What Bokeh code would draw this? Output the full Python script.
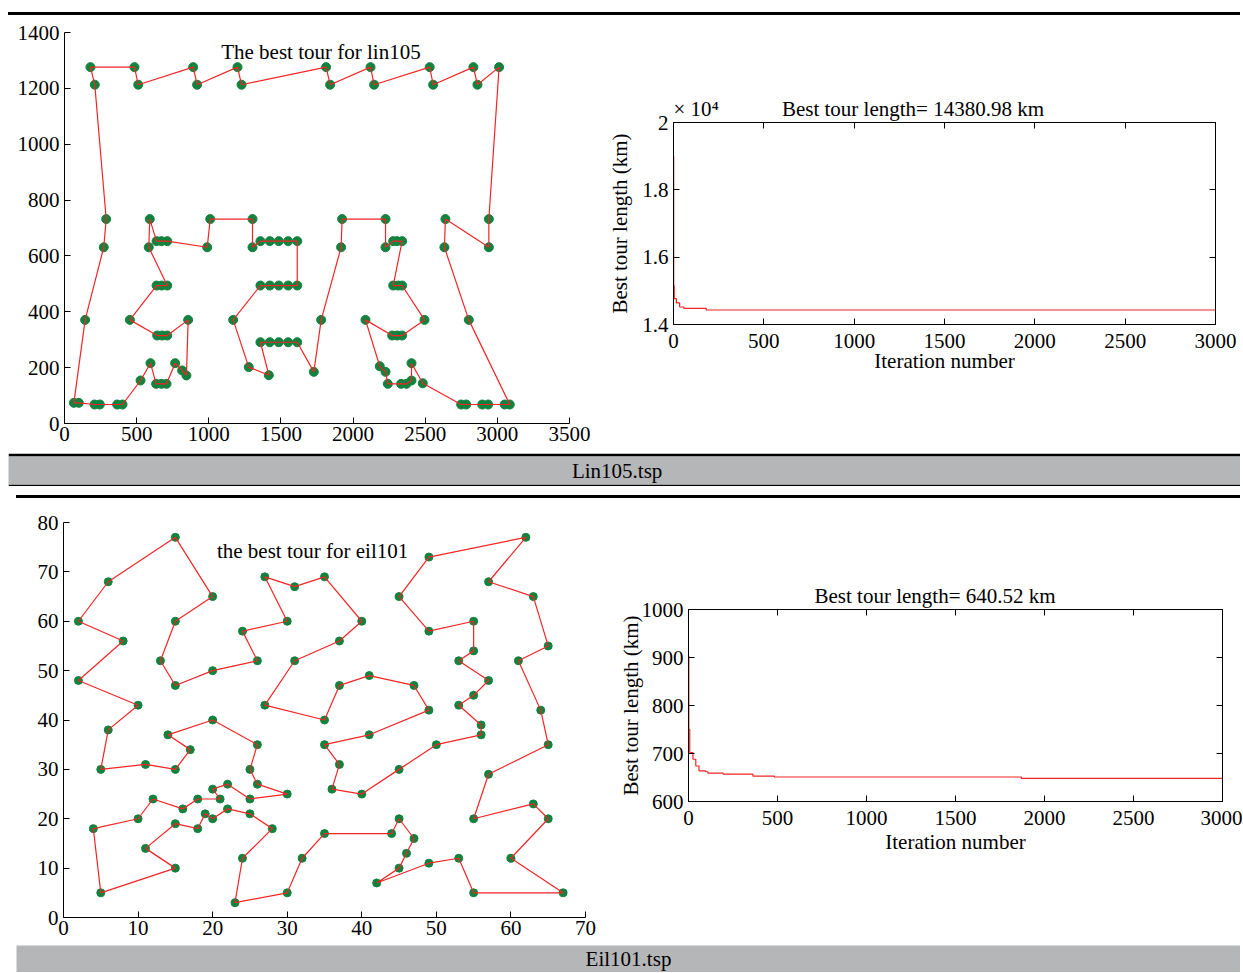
from bokeh.plotting import figure
from bokeh.layouts import column, row
from bokeh.models import Range1d, Label, LinearAxis, FixedTicker, Spacer, Div, Title
from bokeh.embed import file_html
from bokeh.resources import INLINE

FONT = "Liberation Serif"
FS = "21px"
RED = "#f42424"
GREEN = "#13823f"
GREY = "#b5b6b8"
NB = "\u00a0"

# ---------------- data ----------------
# lin105 best tour (city coordinates in visiting order)
lin_x = [180, 485, 511, 892, 919, 1199, 1227, 1813, 1841, 2121, 2146, 2531, 2555, 2834, 2862, 3012,
         2941, 2941, 2640, 2633, 2802, 3086, 3051, 2936, 2895, 2784, 2749,
         2483, 2405, 2405, 2370, 2333, 2241, 2225, 2185, 2086,
         2271, 2305, 2340, 2495, 2340, 2312, 2278, 2340, 2305, 2278,
         2225, 2225, 1924, 1917, 1779, 1728,
         1613, 1550, 1485, 1423, 1358, 1416, 1277, 1169,
         1358, 1423, 1485, 1550, 1613, 1613, 1550, 1485, 1423, 1358,
         1303, 1303, 1010, 989,
         712, 672, 638, 591, 584, 712, 674, 638, 453, 642, 677, 712,
         857, 845, 815, 767, 707, 672, 635, 596, 527,
         402, 365, 245, 208, 99, 65, 143, 272, 289, 210]
lin_y = [1276, 1276, 1213, 1276, 1213, 1276, 1213, 1276, 1213, 1276, 1213, 1276, 1213, 1276, 1213, 1276,
         732, 631, 732, 631, 371, 68, 68, 68, 68, 68, 68,
         144, 216, 154, 142, 142, 142, 185, 205, 371,
         315, 315, 315, 371, 494, 494, 494, 653, 653, 653,
         631, 732, 732, 631, 371, 185,
         291, 291, 291, 291, 291, 173, 202, 371,
         494, 494, 494, 494, 494, 653, 653, 653, 653, 653,
         631, 732, 732, 631,
         653, 653, 653, 732, 631, 494, 494, 494, 371, 315, 315, 315,
         371, 172, 190, 216, 142, 142, 142, 216, 154,
         68, 68, 68, 68, 74, 74, 371, 631, 732, 1213]
lin_xticks = [0, 500, 1000, 1500, 2000, 2500, 3000, 3500]
lin_yticks = [0, 200, 400, 600, 800, 1000, 1200, 1400]

# lin105 convergence
lin_iter = [0, 1, 4, 16, 34, 57, 181, 3000]
lin_best = [18990, 15160, 14770, 14640, 14520, 14480, 14430, 14430]
lin_best_ticks = [14000, 16000, 18000, 20000]
lin_best_labels = ["1.4", "1.6", "1.8", "2"]

# eil101 best tour
eil_x = [56, 56, 50, 45, 40, 36, 37, 35, 41, 49,
         47, 41, 37, 35, 27, 31, 37, 40, 35, 31,
         27, 30, 24, 26, 20, 15, 13, 15, 20, 15,
         6, 2, 8, 2, 10, 6, 5, 11, 15, 17,
         14, 20, 26, 25, 26, 30, 25, 22, 20, 21,
         18, 16, 12, 10, 4, 5, 15, 11, 15, 18,
         19, 20, 22, 25, 28, 24, 23, 30, 32, 35,
         44, 45, 47, 46, 45, 42, 49, 53, 55, 67,
         60, 65, 63, 55, 57, 65, 64, 61, 65, 63,
         57, 62, 49, 45, 49, 55, 55, 53, 57, 55,
         53]
eil_y = [39, 37, 35, 30, 25, 26, 31, 35, 37, 42,
         47, 49, 47, 40, 43, 52, 56, 60, 69, 67,
         69, 60, 58, 52, 50, 47, 52, 60, 65, 77,
         68, 60, 56, 48, 43, 38, 30, 31, 30, 34,
         37, 40, 35, 30, 27, 25, 24, 27, 26, 24,
         24, 22, 24, 20, 18, 5, 10, 14, 19, 18,
         21, 20, 22, 21, 18, 12, 3, 5, 12, 17,
         17, 20, 16, 13, 10, 7, 11, 12, 5, 5,
         12, 20, 23, 20, 29, 35, 42, 52, 55, 65,
         68, 77, 73, 65, 58, 60, 54, 52, 48, 45,
         43]
eil_xticks = [0, 10, 20, 30, 40, 50, 60, 70]
eil_yticks = [0, 10, 20, 30, 40, 50, 60, 70, 80]

# eil101 convergence
eil_iter = [0, 2, 7, 25, 41, 59, 97, 109, 195, 362, 482, 1870, 3000]
eil_best = [903, 750, 702, 688, 674, 664, 662, 659, 657, 653, 651, 648, 648]
eil_best_ticks = [600, 700, 800, 900, 1000]

iter_ticks = [0, 500, 1000, 1500, 2000, 2500, 3000]


# ---------------- helpers ----------------
def style_axis(ax, standoff=5):
    ax.axis_line_color = "black"
    ax.axis_line_width = 1
    ax.major_tick_line_color = "black"
    ax.major_tick_in = 6
    ax.major_tick_out = 0
    ax.minor_tick_line_color = None
    ax.major_label_text_font = FONT
    ax.major_label_text_font_size = FS
    ax.major_label_text_color = "black"
    ax.major_label_standoff = standoff
    ax.axis_label_text_font = FONT
    ax.axis_label_text_font_size = FS
    ax.axis_label_text_font_style = "normal"
    ax.axis_label_text_color = "black"


def base_fig(w, h, bl, br, bt, bb, xr, yr, title=None):
    p = figure(width=w, height=h, x_range=Range1d(*xr), y_range=Range1d(*yr),
               toolbar_location=None, output_backend="svg", title=title,
               min_border_left=bl, min_border_right=br,
               min_border_top=bt, min_border_bottom=bb)
    p.grid.visible = False
    p.background_fill_color = "white"
    p.border_fill_color = "white"
    return p


def tour_fig(xs, ys, xt, yt, xr, yr, title, tx, ty, dims, msize):
    p = base_fig(*dims, xr, yr)
    p.outline_line_color = None
    style_axis(p.xaxis[0], 3)
    style_axis(p.yaxis[0], 5)
    p.xaxis.ticker = FixedTicker(ticks=xt)
    p.yaxis.ticker = FixedTicker(ticks=yt)
    p.scatter(xs, ys, size=msize, fill_color=GREEN, line_color=GREEN)
    p.line(xs + xs[:1], ys + ys[:1], line_color=RED, line_width=1.2)
    p.add_layout(Label(x=tx, y=ty, text=title, text_align="center",
                       text_baseline="alphabetic", text_font=FONT,
                       text_font_size=FS, text_color="black"))
    return p


def conv_fig(iters, best, yt, yr, dims, ylab_standoff, xlab_standoff,
             title_text, title_offset):
    t = Title(text=title_text, align="left", offset=title_offset, standoff=4,
              text_font=FONT, text_font_size=FS, text_font_style="normal",
              text_color="black")
    p = base_fig(*dims, (0, 3000), yr, title=t)
    p.outline_line_color = "black"
    style_axis(p.xaxis[0], 9)
    style_axis(p.yaxis[0], 5)
    p.xaxis.ticker = FixedTicker(ticks=iter_ticks)
    p.yaxis.ticker = FixedTicker(ticks=yt)
    p.xaxis.axis_label = "Iteration number"
    p.xaxis.axis_label_standoff = xlab_standoff
    p.yaxis.axis_label = "Best tour length (km)"
    p.yaxis.axis_label_standoff = ylab_standoff
    top = LinearAxis(ticker=FixedTicker(ticks=iter_ticks),
                     major_label_overrides={t: "" for t in iter_ticks})
    right = LinearAxis(ticker=FixedTicker(ticks=yt),
                       major_label_overrides={t: "" for t in yt})
    for ax in (top, right):
        style_axis(ax, 0)
    p.add_layout(top, "above")
    p.add_layout(right, "right")
    p.step(iters, best, mode="after", line_color=RED, line_width=1.2)
    return p


def grey_bar(w, h, text, tx, top=0, bottom=0):
    p = figure(width=w, height=h, x_range=Range1d(0, 1), y_range=Range1d(0, 1),
               toolbar_location=None, output_backend="svg", title=None,
               x_axis_type=None, y_axis_type=None,
               min_border_left=0, min_border_right=0,
               min_border_top=top, min_border_bottom=bottom)
    p.grid.visible = False
    p.outline_line_color = None
    p.background_fill_color = GREY
    p.border_fill_color = "black"
    p.add_layout(Label(x=tx, y=0.5, text=text, text_align="center",
                       text_baseline="middle", text_font=FONT,
                       text_font_size=FS, text_color="black"))
    return p


def rule(w, h, color="black"):
    return Div(text="", width=w, height=h,
               styles={"background-color": color, "margin": "0", "padding": "0"})


# ---------------- figures ----------------
lin_tour = tour_fig(lin_x, lin_y, lin_xticks, lin_yticks, (0, 3500), (0, 1400),
                    "The best tour for lin105", 1777, 1330,
                    (600, 438, 64, 31, 17, 30), 9)

lin_conv = conv_fig(lin_iter, lin_best, lin_best_ticks, (14000, 20000),
                    (642, 438, 73, 27, 107, 129), 7, -2,
                    "\u00d7 10\u2074" + NB * 12 + "Best tour length= 14380.98 km", 0)
lin_conv.yaxis[0].major_label_overrides = dict(zip(lin_best_ticks, lin_best_labels))

eil_tour = tour_fig(eil_x, eil_y, eil_xticks, eil_yticks, (0, 70), (0, 80),
                    "the best tour for eil101", 33.4, 74.2,
                    (600, 447, 63, 15, 24, 28), 8)

eil_conv = conv_fig(eil_iter, eil_best, eil_best_ticks, (600, 1000),
                    (642, 447, 88, 20, 111, 144), -4, 2,
                    "Best tour length= 640.52 km", 126)

layout = column(
    Spacer(width=1242, height=12),
    row(Spacer(width=8, height=3), rule(1232, 3)),
    row(column(lin_tour), column(lin_conv)),
    row(Spacer(width=8, height=33), grey_bar(1232, 33, "Lin105.tsp", 0.494, top=3, bottom=2)),
    Spacer(width=1242, height=9),
    row(Spacer(width=16, height=3), rule(1224, 3)),
    row(column(eil_tour), column(eil_conv)),
    row(Spacer(width=16, height=27), grey_bar(1224, 27, "Eil101.tsp", 0.5)),
)

open("out.html", "w").write(file_html(layout, INLINE))
